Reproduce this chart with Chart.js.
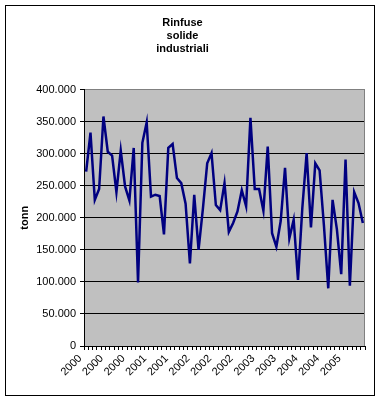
<!DOCTYPE html>
<html><head><meta charset="utf-8">
<script src="https://cdn.jsdelivr.net/npm/chart.js@4/dist/chart.umd.min.js"></script>
<style>html,body{margin:0;padding:0;background:#fff;}</style>
</head><body>
<canvas id="c" width="381" height="401"></canvas>
<script>
const titleLines = ['Rinfuse', 'solide', 'industriali'];
const yAxisTitle = 'tonn';
const categories = [
 '01/2000','02/2000','03/2000','04/2000','05/2000','06/2000','07/2000','08/2000','09/2000','10/2000','11/2000','12/2000',
 '01/2001','02/2001','03/2001','04/2001','05/2001','06/2001','07/2001','08/2001','09/2001','10/2001','11/2001','12/2001',
 '01/2002','02/2002','03/2002','04/2002','05/2002','06/2002','07/2002','08/2002','09/2002','10/2002','11/2002','12/2002',
 '01/2003','02/2003','03/2003','04/2003','05/2003','06/2003','07/2003','08/2003','09/2003','10/2003','11/2003','12/2003',
 '01/2004','02/2004','03/2004','04/2004','05/2004','06/2004','07/2004','08/2004','09/2004','10/2004','11/2004','12/2004',
 '01/2005','02/2005','03/2005','04/2005','05/2005'
];
const tonnes = [
 272000, 333000, 228000, 245000, 358000, 303000, 297000, 240000, 305000, 249000, 227000, 309000,
 99000, 317000, 349000, 233000, 236000, 234000, 174000, 309000, 315000, 262000, 254000, 222000,
 129000, 236000, 150000, 214000, 285000, 301000, 220000, 212000, 254000, 178000, 192000, 210000,
 243000, 218000, 356000, 245000, 245000, 211000, 311000, 176000, 155000, 195000, 278000, 168000,
 197000, 103000, 215000, 301000, 185000, 285000, 274000, 188000, 90000, 228000, 182000, 112000,
 291000, 94000, 240000, 223000, 192000
];
const yMin = 0, yMax = 400000, yStep = 50000;
const labelEvery = 5;

const FONT = '"Liberation Sans", Arial, sans-serif';
const fmt = v => v === 0 ? '0' : String(v).replace(/\B(?=(\d{3})+(?!\d))/g, '.');

const deco = {
  id: 'deco',
  beforeDraw(chart) {
    const {ctx, chartArea: a} = chart;
    ctx.save();
    ctx.fillStyle = '#ffffff';
    ctx.fillRect(0, 0, chart.width, chart.height);
    ctx.fillStyle = '#C0C0C0';
    ctx.fillRect(a.left, a.top, a.right - a.left, a.bottom - a.top);
    ctx.restore();
  },
  beforeDatasetsDraw(chart) {
    const {ctx, chartArea: a} = chart;
    ctx.save();
    ctx.strokeStyle = '#808080';
    ctx.lineWidth = 1;
    ctx.beginPath();
    ctx.moveTo(Math.round(a.right) - 0.5, a.top);
    ctx.lineTo(Math.round(a.right) - 0.5, a.bottom);
    ctx.stroke();
    ctx.restore();
  },
  afterDraw(chart) {
    const {ctx} = chart;
    ctx.save();
    ctx.strokeStyle = '#000';
    ctx.lineWidth = 1;
    ctx.strokeRect(5.5, 5.5, 369, 390);
    ctx.restore();
  }
};

new Chart(document.getElementById('c'), {
  type: 'line',
  data: {
    labels: categories,
    datasets: [{
      data: tonnes,
      borderColor: '#000080',
      borderWidth: 2.5,
      pointRadius: 0,
      tension: 0,
      fill: false
    }]
  },
  options: {
    responsive: false,
    animation: false,
    devicePixelRatio: 1,
    layout: {padding: {left: 0, right: 16, top: 0, bottom: 0}},
    plugins: {
      legend: {display: false},
      tooltip: {enabled: false},
      title: {
        display: true,
        text: titleLines,
        color: '#000',
        font: {family: FONT, size: 11, weight: 'bold', lineHeight: 1.2},
        padding: {top: 16, bottom: 34}
      }
    },
    scales: {
      x: {
        type: 'category',
        offset: true,
        grid: {display: true, drawOnChartArea: false, drawTicks: true, tickLength: 4, color: '#000', offset: true},
        border: {color: '#000', width: 1},
        ticks: {
          autoSkip: false, maxRotation: 45, minRotation: 45, color: '#000',
          font: {family: FONT, size: 11}, padding: 2, labelOffset: -6,
          callback: (v, i) => i % labelEvery === 0 ? categories[i].slice(-4) : ''
        },
        afterFit: s => { s.height = 55; }
      },
      y: {
        min: yMin, max: yMax,
        ticks: {stepSize: yStep, color: '#000', font: {family: FONT, size: 11}, padding: 4, callback: v => fmt(v)},
        grid: {
          color: c => (c.tick && c.tick.value === yMax) ? '#808080' : '#000',
          tickColor: '#000', tickLength: 4, drawTicks: true, lineWidth: 1
        },
        border: {color: '#000', width: 1},
        title: {display: true, text: yAxisTitle, color: '#000', font: {family: FONT, size: 11, weight: 'bold'}, padding: {top: 18, bottom: 0}},
        afterFit: s => { s.width = 84; }
      }
    }
  },
  plugins: [deco]
});
</script>
</body></html>
